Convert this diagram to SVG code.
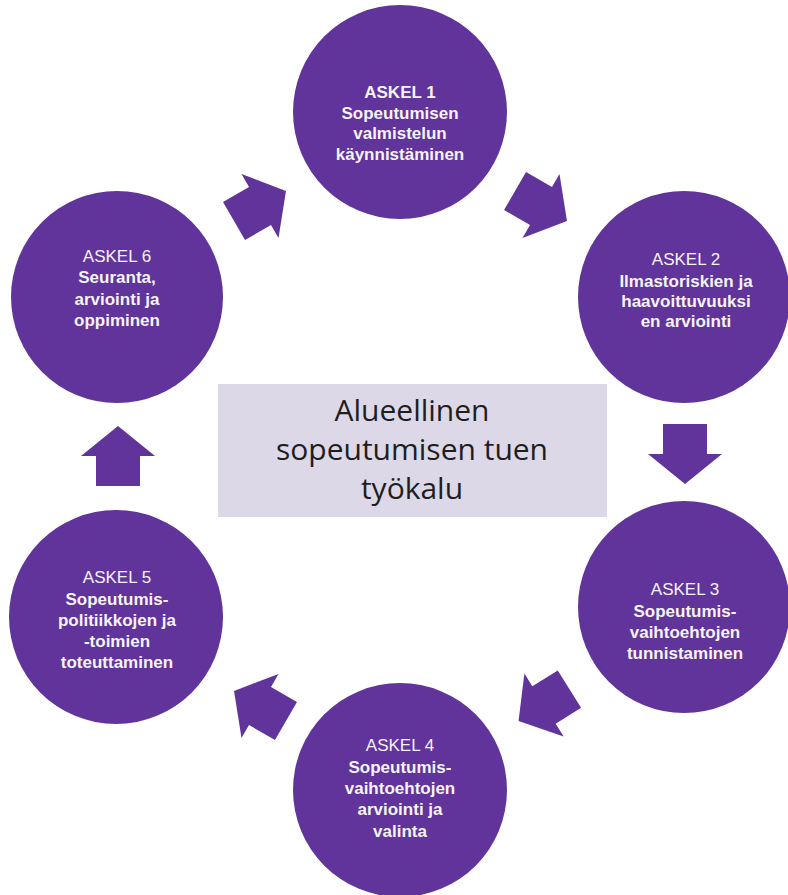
<svg xmlns="http://www.w3.org/2000/svg" width="788" height="895" viewBox="0 0 788 895">
<defs>
<style>
.c{fill:#60349A}
.t{font-family:"Liberation Sans",Arial,sans-serif;font-size:17px;fill:#F5F3F8;text-anchor:middle}
.b{font-weight:bold}
.m{font-family:"Open Sans","Liberation Sans",sans-serif;font-size:30px;fill:#1E1E1E;text-anchor:middle}
.a{fill:#60349A}
</style>
<path id="arr" d="M-30,-22 L0,-22 L0,-37 L30,0 L0,37 L0,22 L-30,22 Z"/>
</defs>
<rect width="788" height="895" fill="#FFFFFF"/>
<g id="connectors" class="a">
<use href="#arr" transform="translate(260,206) rotate(-30)"/>
<use href="#arr" transform="translate(541,206) rotate(30)"/>
<use href="#arr" transform="translate(685,454) rotate(90)"/>
<use href="#arr" transform="translate(544,705) rotate(148)"/>
<use href="#arr" transform="translate(260,706) rotate(-150)"/>
<use href="#arr" transform="translate(118,456) rotate(-90)"/>
</g>
<g id="center">
<rect x="218" y="384" width="389" height="133" fill="#DCD8E8"/>
<text class="m" x="412" y="421">Alueellinen</text>
<text class="m" x="412" y="460">sopeutumisen tuen</text>
<text class="m" x="412" y="499">työkalu</text>
</g>
<g id="step1">
<circle class="c" cx="400" cy="112" r="107"/>
<text class="t b" x="400" y="98">ASKEL 1</text>
<text class="t b" x="400" y="119">Sopeutumisen</text>
<text class="t b" x="400" y="139">valmistelun</text>
<text class="t b" x="400" y="160">käynnistäminen</text>
</g>
<g id="step2">
<circle class="c" cx="684" cy="297" r="106"/>
<text class="t" x="686" y="265">ASKEL 2</text>
<text class="t b" x="686" y="287">Ilmastoriskien ja</text>
<text class="t b" x="686" y="307">haavoittuvuuksi</text>
<text class="t b" x="686" y="327">en arviointi</text>
</g>
<g id="step3">
<circle class="c" cx="684" cy="607" r="106"/>
<text class="t" x="685" y="595">ASKEL 3</text>
<text class="t b" x="685" y="617">Sopeutumis-</text>
<text class="t b" x="685" y="638">vaihtoehtojen</text>
<text class="t b" x="685" y="659">tunnistaminen</text>
</g>
<g id="step4">
<circle class="c" cx="400" cy="790" r="107"/>
<text class="t" x="400" y="751">ASKEL 4</text>
<text class="t b" x="400" y="773">Sopeutumis-</text>
<text class="t b" x="400" y="794">vaihtoehtojen</text>
<text class="t b" x="400" y="815">arviointi ja</text>
<text class="t b" x="400" y="837">valinta</text>
</g>
<g id="step5">
<circle class="c" cx="116" cy="617" r="107"/>
<text class="t" x="117" y="583">ASKEL 5</text>
<text class="t b" x="117" y="605">Sopeutumis-</text>
<text class="t b" x="117" y="626">politiikkojen ja</text>
<text class="t b" x="117" y="647">-toimien</text>
<text class="t b" x="117" y="668">toteuttaminen</text>
</g>
<g id="step6">
<circle class="c" cx="117" cy="297" r="106"/>
<text class="t" x="117" y="262">ASKEL 6</text>
<text class="t b" x="117" y="283">Seuranta,</text>
<text class="t b" x="117" y="305">arviointi ja</text>
<text class="t b" x="117" y="326">oppiminen</text>
</g>
</svg>
